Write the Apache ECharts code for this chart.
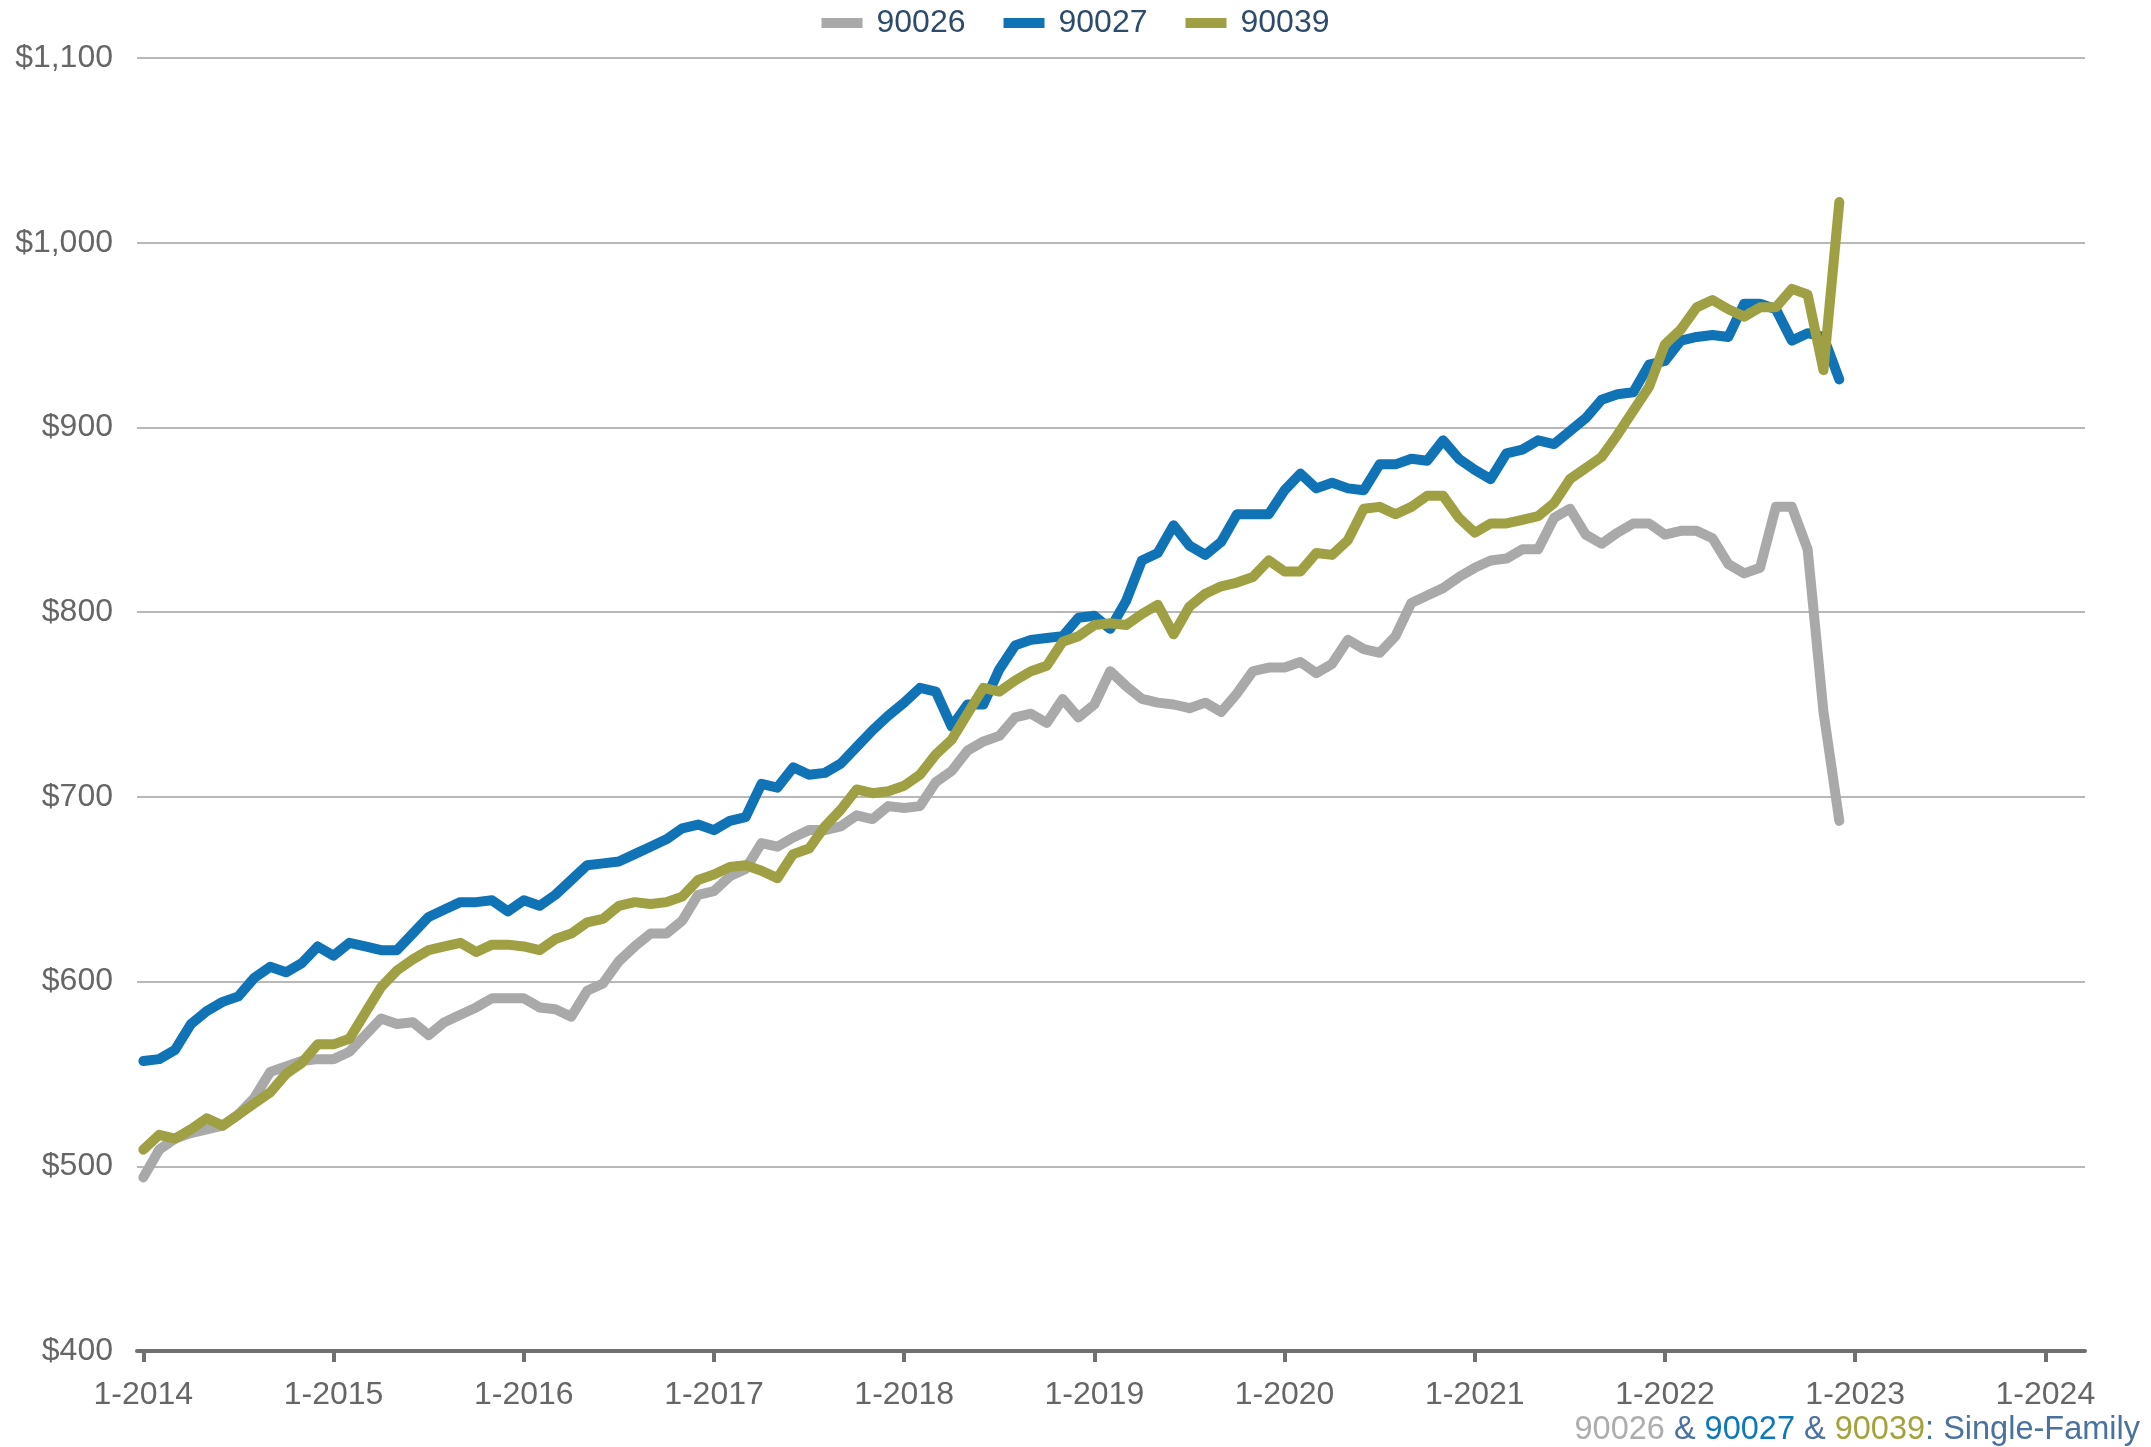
<!DOCTYPE html>
<html>
<head>
<meta charset="utf-8">
<script src="https://cdn.jsdelivr.net/npm/echarts@6/dist/echarts.min.js"></script>
<style>
html,body{margin:0;padding:0;background:#fff;}
#chart{width:2151px;height:1447px;}
</style>
</head>
<body>
<div id="chart"></div>
<script>
// Monthly, Jan 2014 .. Dec 2022
const startYear = 2014;
const yearTicks = [2014, 2015, 2016, 2017, 2018, 2019, 2020, 2021, 2022, 2023, 2024];
const seriesNames = ['90026', '90027', '90039'];

const zip90026 = [
  494, 509, 515, 518, 520, 522, 528, 537, 551, 554, 557, 558,
  558, 562, 571, 580, 577, 578, 571, 578, 582, 586, 591, 591,
  591, 586, 585, 581, 595, 599, 611, 619, 626, 626, 633, 647,
  649, 657, 661, 675, 673, 678, 682, 682, 684, 690, 688, 695,
  694, 695, 708, 714, 725, 730, 733, 743, 745, 740, 753, 743,
  750, 768, 760, 753, 751, 750, 748, 751, 746, 756, 768, 770,
  770, 773, 767, 772, 785, 780, 778, 787, 805, 809, 813, 819,
  824, 828, 829, 834, 834, 851, 856, 842, 837, 843, 848, 848,
  842, 844, 844, 840, 826, 821, 824, 857, 857, 834, 746, 687
];

const zip90027 = [
  557, 558, 563, 577, 584, 589, 592, 602, 608, 605, 610, 619,
  614, 621, 619, 617, 617, 626, 635, 639, 643, 643, 644, 638,
  644, 641, 647, 655, 663, 664, 665, 669, 673, 677, 683, 685,
  682, 687, 689, 707, 705, 716, 712, 713, 718, 727, 736, 744,
  751, 759, 757, 738, 750, 750, 769, 782, 785, 786, 787, 797,
  798, 791, 806, 828, 832, 847, 836, 831, 838, 853, 853, 853,
  866, 875, 867, 870, 867, 866, 880, 880, 883, 882, 893, 883,
  877, 872, 886, 888, 893, 891, 898, 905, 915, 918, 919, 934,
  936, 947, 949, 950, 949, 967, 967, 964, 947, 951, 949, 926
];

const zip90039 = [
  509, 517, 515, 520, 526, 522, 528, 534, 540, 550, 556, 566,
  566, 569, 583, 597, 606, 612, 617, 619, 621, 616, 620, 620,
  619, 617, 623, 626, 632, 634, 641, 643, 642, 643, 646, 655,
  658, 662, 663, 660, 656, 669, 672, 684, 693, 704, 702, 703,
  706, 712, 723, 731, 745, 759, 757, 763, 768, 771, 784, 787,
  793, 794, 793, 799, 804, 788, 803, 810, 814, 816, 819, 828,
  822, 822, 832, 831, 839, 856, 857, 853, 857, 863, 863, 851,
  843, 848, 848, 850, 852, 859, 872, 878, 884, 896, 909, 922,
  945, 953, 965, 969, 964, 960, 965, 965, 975, 972, 931, 1022
];

const colors = ['#a9a9a9', '#0f73b5', '#9fa043'];
const allData = [zip90026, zip90027, zip90039];

function toPairs(arr) { return arr.map((v, i) => [i, v]); }

const tickValues = yearTicks.map(y => (y - startYear) * 12);

const chart = echarts.init(document.getElementById('chart'), null, {renderer: 'canvas'});
const font = '"Liberation Sans", Arial, sans-serif';

chart.setOption({
  animation: false,
  backgroundColor: '#ffffff',
  textStyle: {fontFamily: font},
  legend: {
    top: 2,
    left: 'center',
    itemWidth: 41,
    itemHeight: 10,
    itemGap: 38,
    icon: 'rect',
    textStyle: {fontSize: 32, color: '#2e4b6c', fontFamily: font, padding: [0, 0, 0, 9]},
    data: seriesNames
  },
  grid: {left: 137, right: 66, top: 58, bottom: 96, containLabel: false},
  xAxis: {
    type: 'value',
    min: -0.4,
    max: 122.5,
    axisLine: {show: true, lineStyle: {color: '#707070', width: 4}},
    axisTick: {show: true, customValues: tickValues, length: 11, lineStyle: {color: '#707070', width: 4}},
    axisLabel: {
      customValues: tickValues,
      formatter: v => '1-' + (startYear + Math.round(v / 12)),
      fontSize: 32, color: '#666666', margin: 28, fontFamily: font
    },
    splitLine: {show: false}
  },
  yAxis: {
    type: 'value',
    min: 400,
    max: 1100,
    interval: 100,
    axisLine: {show: false},
    axisTick: {show: false},
    axisLabel: {
      formatter: v => '$' + v.toLocaleString('en-US'),
      fontSize: 32, color: '#666666', margin: 24, fontFamily: font
    },
    splitLine: {show: true, lineStyle: {color: '#b8b8b8', width: 2}}
  },
  series: seriesNames.map((n, i) => ({
    name: n,
    type: 'line',
    data: toPairs(allData[i]),
    symbol: 'none',
    color: colors[i],
    lineStyle: {width: 10, color: colors[i], cap: 'round', join: 'round'},
    z: 2 + i
  })),
  graphic: [{
    type: 'text',
    right: 11,
    bottom: 0,
    style: {
      text: '{g|90026}{s| & }{b|90027}{s| & }{o|90039}{s|: Single-Family}',
      font: '32.5px ' + font,
      rich: {
        g: {fill: '#adadad', fontSize: 32.5, fontFamily: font},
        s: {fill: '#4a72a0', fontSize: 32.5, fontFamily: font},
        b: {fill: '#1078b8', fontSize: 32.5, fontFamily: font},
        o: {fill: '#a3a33e', fontSize: 32.5, fontFamily: font}
      }
    }
  }]
});
</script>
</body>
</html>
